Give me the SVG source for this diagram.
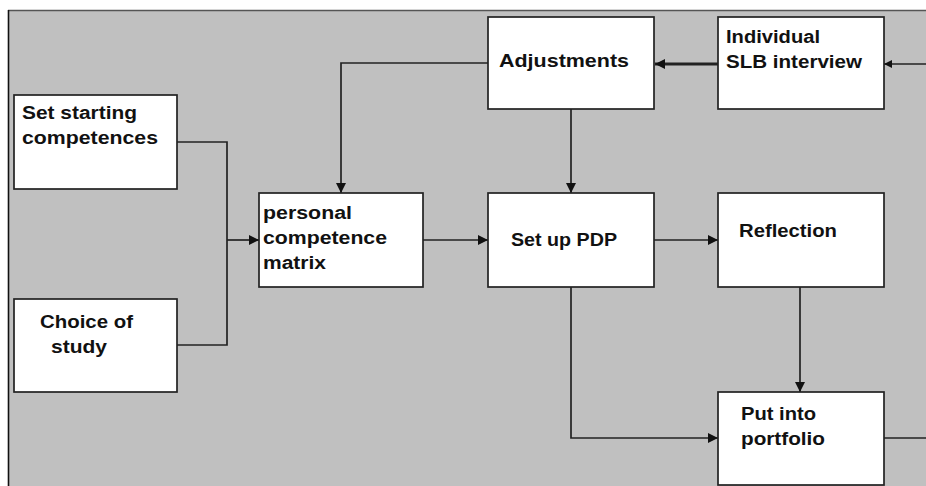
<svg xmlns="http://www.w3.org/2000/svg" width="926" height="486" viewBox="0 0 926 486">
<style>
.box{fill:#fff;stroke:#222;stroke-width:1.7}
.t{font-family:"Liberation Sans",Arial,sans-serif;font-weight:bold;font-size:18px;fill:#111}
.c{fill:none;stroke:#222;stroke-width:1.7}
.thick{stroke-width:3}
</style>
<defs>
<marker id="ah" viewBox="0 0 10 10" refX="10" refY="5" markerWidth="10" markerHeight="10" markerUnits="userSpaceOnUse" orient="auto">
<path d="M0,0 L10,5 L0,10 Z" fill="#111"/>
</marker>
<marker id="ahs" viewBox="0 0 10 10" refX="10" refY="5" markerWidth="8" markerHeight="8" markerUnits="userSpaceOnUse" orient="auto">
<path d="M0,0 L10,5 L0,10 Z" fill="#111"/>
</marker>
</defs>
<rect x="0" y="0" width="926" height="486" fill="#fff"/>
<rect x="8" y="10" width="918" height="476" fill="#c0c0c0"/>
<line x1="8" y1="10.5" x2="926" y2="10.5" stroke="#555" stroke-width="1.5"/>
<line x1="8.5" y1="10" x2="8.5" y2="486" stroke="#111" stroke-width="1.6"/>
<g id="connectors">
<polyline class="c" points="177,142 227,142 227,345 177,345"/>
<line class="c" x1="227" y1="240" x2="259" y2="240" marker-end="url(#ah)"/>
<polyline class="c" points="488,63 341,63 341,193" marker-end="url(#ah)"/>
<line class="c thick" x1="718" y1="64" x2="655" y2="64" marker-end="url(#ah)"/>
<line class="c" x1="926" y1="64" x2="884" y2="64" marker-end="url(#ahs)"/>
<line class="c" x1="571" y1="109" x2="571" y2="193" marker-end="url(#ah)"/>
<line class="c" x1="423" y1="240" x2="488" y2="240" marker-end="url(#ah)"/>
<line class="c" x1="654" y1="240" x2="718" y2="240" marker-end="url(#ah)"/>
<line class="c" x1="800" y1="287" x2="800" y2="392" marker-end="url(#ah)"/>
<polyline class="c" points="571,287 571,438 718,438" marker-end="url(#ah)"/>
<line class="c" x1="884" y1="438" x2="926" y2="438"/>
</g>
<g id="set-starting">
<rect class="box" x="14" y="95" width="163" height="94"/>
<text class="t" x="22" y="119" textLength="115" lengthAdjust="spacingAndGlyphs">Set starting</text>
<text class="t" x="22" y="144" textLength="136" lengthAdjust="spacingAndGlyphs">competences</text>
</g>
<g id="choice-of-study">
<rect class="box" x="14" y="299" width="163" height="93"/>
<text class="t" x="40" y="328" textLength="93" lengthAdjust="spacingAndGlyphs">Choice of</text>
<text class="t" x="51" y="353" textLength="56" lengthAdjust="spacingAndGlyphs">study</text>
</g>
<g id="personal-matrix">
<rect class="box" x="259" y="193" width="164" height="94"/>
<text class="t" x="263" y="219" textLength="89" lengthAdjust="spacingAndGlyphs">personal</text>
<text class="t" x="263" y="244" textLength="124" lengthAdjust="spacingAndGlyphs">competence</text>
<text class="t" x="263" y="269" textLength="63" lengthAdjust="spacingAndGlyphs">matrix</text>
</g>
<g id="adjustments">
<rect class="box" x="488" y="17" width="166" height="92"/>
<text class="t" x="499" y="67" textLength="130" lengthAdjust="spacingAndGlyphs">Adjustments</text>
</g>
<g id="slb-interview">
<rect class="box" x="718" y="17" width="166" height="92"/>
<text class="t" x="726" y="43" textLength="94" lengthAdjust="spacingAndGlyphs">Individual</text>
<text class="t" x="726" y="68" textLength="136" lengthAdjust="spacingAndGlyphs">SLB interview</text>
</g>
<g id="set-up-pdp">
<rect class="box" x="488" y="193" width="166" height="94"/>
<text class="t" x="511" y="246" textLength="106" lengthAdjust="spacingAndGlyphs">Set up PDP</text>
</g>
<g id="reflection">
<rect class="box" x="718" y="193" width="166" height="94"/>
<text class="t" x="739" y="237" textLength="98" lengthAdjust="spacingAndGlyphs">Reflection</text>
</g>
<g id="portfolio">
<rect class="box" x="718" y="392" width="166" height="93"/>
<text class="t" x="741" y="420" textLength="75" lengthAdjust="spacingAndGlyphs">Put into</text>
<text class="t" x="741" y="445" textLength="84" lengthAdjust="spacingAndGlyphs">portfolio</text>
</g>
</svg>
